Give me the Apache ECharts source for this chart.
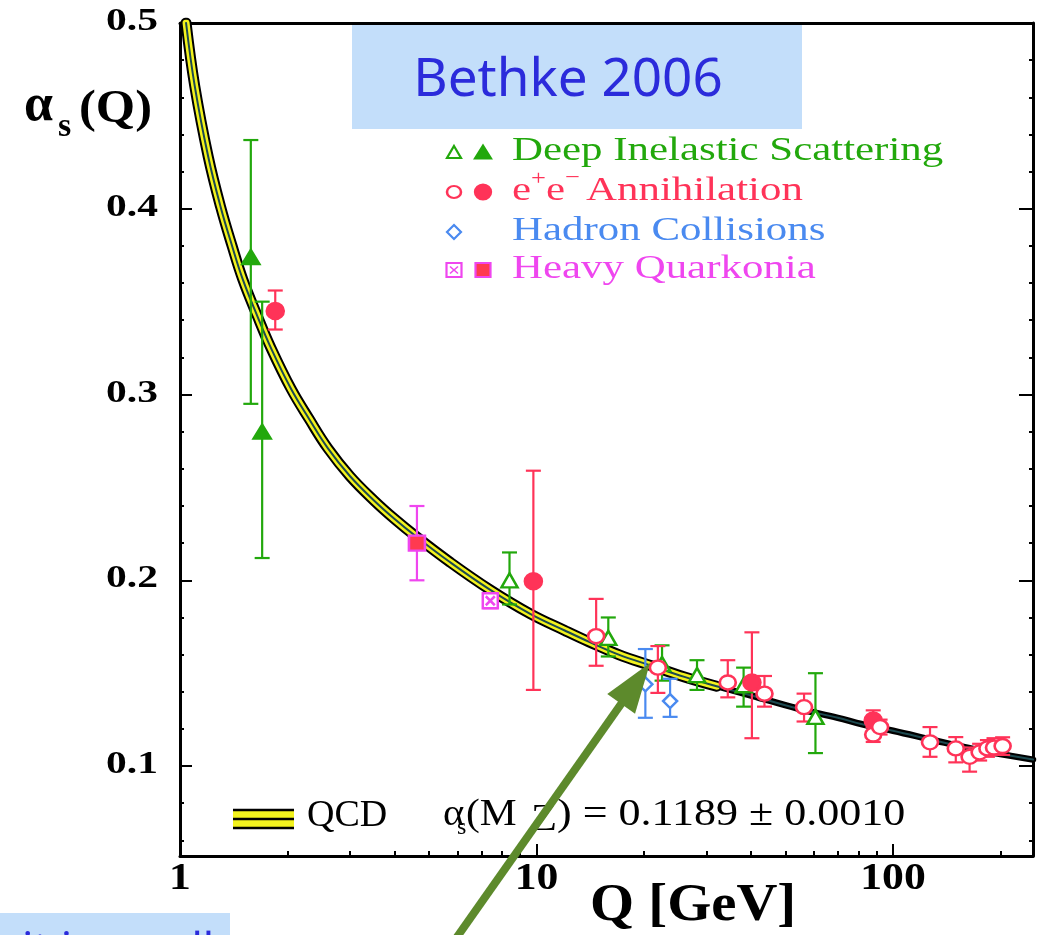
<!DOCTYPE html>
<html>
<head>
<meta charset="utf-8">
<script src="https://cdn.jsdelivr.net/npm/echarts@6/dist/echarts.min.js"></script>
<style>
  html, body { margin: 0; padding: 0; background: #ffffff; }
  #chart { width: 1039px; height: 935px; }
</style>
</head>
<body>
<div id="chart"></div>
<script>
// QCD running coupling, central curve (Q in GeV, alpha_s)
const curveQ = [1.04, 1.1, 1.2, 1.3, 1.4, 1.5, 1.65, 1.8, 2.05, 2.3, 2.6, 3.0, 3.5, 4.0, 4.6, 5.7, 7.4, 9.6, 12, 14, 17, 21, 26, 32, 40, 54, 70, 82, 100, 133, 170, 200, 247];
const curveAlpha = [0.500, 0.466, 0.428, 0.401, 0.380, 0.362, 0.342, 0.325, 0.303, 0.287, 0.271, 0.256, 0.243, 0.233, 0.2235, 0.210, 0.195, 0.182, 0.173, 0.167, 0.160, 0.154, 0.148, 0.143, 0.138, 0.131, 0.126, 0.1225, 0.119, 0.1135, 0.109, 0.1065, 0.1035];
// the error band is wide at low Q and narrows above this scale
const bandNarrowsAt = 32;

// Deep inelastic scattering
const disNnloQ = [8.4, 15.9, 22.5, 28.2, 38.1, 60.6];
const disNnloAlpha = [0.200, 0.169, 0.155, 0.149, 0.1435, 0.1265];
const disNnloLow = [0.187, 0.159, 0.146, 0.141, 0.132, 0.107];
const disNnloHigh = [0.215, 0.180, 0.165, 0.157, 0.153, 0.150];
const disNloQ = [1.58, 1.70];
const disNloAlpha = [0.374, 0.280];
const disNloLow = [0.295, 0.212];
const disNloHigh = [0.437, 0.350];

// e+e- annihilation
const eeNnloQ = [14.7, 21.9, 34.4, 43.6, 56.3, 88, 92, 127, 150, 164, 175, 184, 192, 203];
const eeNnloAlpha = [0.170, 0.153, 0.145, 0.139, 0.1317, 0.117, 0.121, 0.1128, 0.1095, 0.105, 0.1074, 0.1095, 0.110, 0.1108];
const eeNnloLow = [0.154, 0.1394, 0.137, 0.132, 0.124, 0.113, 0.117, 0.105, 0.102, 0.097, 0.103, 0.105, 0.106, 0.106];
const eeNnloHigh = [0.190, 0.1646, 0.157, 0.1485, 0.139, 0.121, 0.125, 0.121, 0.1156, 0.110, 0.112, 0.114, 0.115, 0.1155];
const eeNloQ = [1.85, 9.8, 40.2, 88];
const eeNloAlpha = [0.345, 0.1995, 0.145, 0.1245];
const eeNloLow = [0.335, 0.141, 0.115, 0.121];
const eeNloHigh = [0.356, 0.259, 0.172, 0.130];

// Hadron collisions
const hadronQ = [20.2, 23.7];
const hadronAlpha = [0.144, 0.135];
const hadronLow = [0.126, 0.1265];
const hadronHigh = [0.163, 0.147];

// Heavy quarkonia
const quarkNloQ = [4.62];
const quarkNloAlpha = [0.220];
const quarkNloLow = [0.200];
const quarkNloHigh = [0.240];
const quarkNnloQ = [7.42];
const quarkNnloAlpha = [0.189];
const quarkNnloLow = [0.185];
const quarkNnloHigh = [0.193];

// Axes
const xMajorTicks = [1, 10, 100];
const xMinorTicks = [2, 3, 4, 5, 6, 7, 8, 9, 20, 30, 40, 50, 60, 70, 80, 90, 200];
const xTickLabels = ['1', '10', '100'];
const yMajorTicks = [0.1, 0.2, 0.3, 0.4, 0.5];
const yMinorTicks = [0.06, 0.08, 0.12, 0.14, 0.16, 0.18, 0.22, 0.24, 0.26, 0.28, 0.32, 0.34, 0.36, 0.38, 0.42, 0.44, 0.46, 0.48];
const yTickLabels = ['0.1', '0.2', '0.3', '0.4', '0.5'];

const legendLabels = ['Deep Inelastic Scattering', 'Annihilation', 'Hadron Collisions', 'Heavy Quarkonia'];

const GREEN = '#22a80c';
const RED = '#ff3358';
const BLUE = '#4a8af0';
const MAGENTA = '#ef46ef';
const YELLOW = '#f2f21e';
const SERIF = '"Liberation Serif", "Times New Roman", serif';
const ROUND = '"Noto Sans", "DejaVu Sans", sans-serif';

const X_MIN = 1, X_MAX = 247, Y_MIN = 0.0516, Y_MAX = 0.5;

function logAxis(pos, show, ticks, len) {
  return {
    type: 'log', logBase: 10, min: X_MIN, max: X_MAX, position: pos, gridIndex: 0,
    axisLine: { show: show, onZero: false, lineStyle: { color: '#000', width: 3 } },
    axisTick: ticks ? { show: true, inside: true, length: len, customValues: ticks, lineStyle: { color: '#000', width: 2 } } : { show: false },
    axisLabel: { show: false }, splitLine: { show: false }, minorTick: { show: false }
  };
}
function valAxis(pos, show, ticks, len) {
  return {
    type: 'value', min: Y_MIN, max: Y_MAX, position: pos, gridIndex: 0,
    axisLine: { show: show, onZero: false, lineStyle: { color: '#000', width: 3 } },
    axisTick: { show: true, inside: true, length: len, customValues: ticks, lineStyle: { color: '#000', width: 2 } },
    axisLabel: { show: false }, splitLine: { show: false }
  };
}

function errorBars(name, qs, lows, highs, color) {
  return {
    type: 'custom', name: name, xAxisIndex: 0, yAxisIndex: 0, z: 3, silent: true,
    data: qs.map((q, i) => [q, lows[i], highs[i]]),
    encode: { x: 0, y: [1, 2] },
    renderItem: function (params, api) {
      const top = api.coord([api.value(0), api.value(2)]);
      const bot = api.coord([api.value(0), api.value(1)]);
      const hw = 7.5;
      const st = { stroke: color, lineWidth: 2.2 };
      return {
        type: 'group', children: [
          { type: 'line', shape: { x1: top[0], y1: top[1], x2: bot[0], y2: bot[1] }, style: st },
          { type: 'line', shape: { x1: top[0] - hw, y1: top[1], x2: top[0] + hw, y2: top[1] }, style: st },
          { type: 'line', shape: { x1: bot[0] - hw, y1: bot[1], x2: bot[0] + hw, y2: bot[1] }, style: st }
        ]
      };
    }
  };
}
function points(name, qs, alphas, symbol, size, fill, stroke) {
  return {
    type: 'scatter', name: name, xAxisIndex: 0, yAxisIndex: 0, z: 4, silent: true,
    symbol: symbol, symbolSize: size,
    itemStyle: { color: fill, borderColor: stroke, borderWidth: 2.5, opacity: 1 },
    data: qs.map((q, i) => [q, alphas[i]])
  };
}
function curveLine(name, qs, alphas, color, width) {
  return {
    type: 'line', name: name, xAxisIndex: 0, yAxisIndex: 0, z: 1, silent: true,
    smooth: 0.4, showSymbol: false, symbol: 'none',
    lineStyle: { color: color, width: width, cap: 'round', join: 'round' },
    data: qs.map((q, i) => [q, alphas[i]])
  };
}

// split the curve into the wide low-Q part and the narrow high-Q part
const cut = curveQ.findIndex(q => q >= bandNarrowsAt);
const lowQ = curveQ.slice(0, cut + 1), lowA = curveAlpha.slice(0, cut + 1);
const highQ = curveQ.slice(cut - 1), highA = curveAlpha.slice(cut - 1);

const BOXED_X = 'path://M0 0H20V20H0Z M4 4L16 16 M16 4L4 16';

const chart = echarts.init(document.getElementById('chart'), null, { renderer: 'canvas' });
chart.setOption({
  animation: false,
  backgroundColor: '#ffffff',
  grid: { left: 180, right: 6, top: 23, bottom: 79, containLabel: false },
  xAxis: [
    logAxis('bottom', true, xMajorTicks, 12),
    logAxis('bottom', false, xMinorTicks, 5),
    logAxis('top', true, null, 0)
  ],
  yAxis: [
    valAxis('left', true, yMajorTicks, 12),
    valAxis('left', false, yMinorTicks, 4),
    valAxis('right', true, yMajorTicks, 14),
    valAxis('right', false, yMinorTicks, 4)
  ],
  series: [
    // series order sets drawing order: outlines, yellow band, central line
    curveLine('QCD outline', lowQ, lowA, '#000000', 11),
    curveLine('QCD outline', highQ, highA, '#000000', 6.5),
    curveLine('QCD band', lowQ, lowA, YELLOW, 7),
    curveLine('QCD', curveQ, curveAlpha, '#1d4a50', 2),

    errorBars('DIS NLO err', disNloQ, disNloLow, disNloHigh, GREEN),
    errorBars('DIS NNLO err', disNnloQ, disNnloLow, disNnloHigh, GREEN),
    errorBars('ee NLO err', eeNloQ, eeNloLow, eeNloHigh, RED),
    errorBars('ee NNLO err', eeNnloQ, eeNnloLow, eeNnloHigh, RED),
    errorBars('Hadron err', hadronQ, hadronLow, hadronHigh, BLUE),
    errorBars('Quarkonia NLO err', quarkNloQ, quarkNloLow, quarkNloHigh, MAGENTA),
    errorBars('Quarkonia NNLO err', quarkNnloQ, quarkNnloLow, quarkNnloHigh, MAGENTA),

    points('Deep Inelastic Scattering (NLO)', disNloQ, disNloAlpha, 'triangle', [17, 14], GREEN, GREEN),
    points('Deep Inelastic Scattering', disNnloQ, disNnloAlpha, 'triangle', [16, 14], '#ffffff', GREEN),
    points('e+e- Annihilation (NLO)', eeNloQ, eeNloAlpha, 'circle', [17, 16], RED, RED),
    points('e+e- Annihilation', eeNnloQ, eeNnloAlpha, 'circle', [16, 14], '#ffffff', RED),
    points('Hadron Collisions', hadronQ, hadronAlpha, 'diamond', [14, 14], '#ffffff', BLUE),
    points('Heavy Quarkonia (NLO)', quarkNloQ, quarkNloAlpha, 'rect', [16, 15], '#ff3a50', MAGENTA),
    points('Heavy Quarkonia', quarkNnloQ, quarkNnloAlpha, BOXED_X, [15, 15], '#ffffff', MAGENTA)
  ]
});

const px = (q, a) => chart.convertToPixel({ xAxisIndex: 0, yAxisIndex: 0 }, [q, a]);

function text(x, y, str, font, fill, align, sx, z) {
  const a = align || 'left';
  return {
    type: 'text', x: x, y: y, scaleX: sx || 1, scaleY: 1, z: z || 50, silent: true,
    style: { text: str, font: font, fill: fill, align: a, verticalAlign: 'middle', textAlign: a, textVerticalAlign: 'middle' }
  };
}

const g = [];

// tick labels, placed through the axis scales
const axisLeft = px(X_MIN, Y_MIN)[0];
const axisBottom = px(X_MIN, Y_MIN)[1];
yMajorTicks.forEach((v, i) => {
  const p = px(X_MIN, v);
  g.push(text(axisLeft - 22, p[1] - 1, yTickLabels[i], 'bold 31px ' + SERIF, '#000', 'right', 1.34));
});
xMajorTicks.forEach((v, i) => {
  const p = px(v, Y_MIN);
  g.push(text(p[0], axisBottom + 23, xTickLabels[i], 'bold 38px ' + SERIF, '#000', 'center', 1.15));
});

// axis titles
g.push(text(24, 107, 'α', 'bold 52px ' + SERIF, '#000', 'left', 1));
g.push(text(58, 127, 's', 'bold 34px ' + SERIF, '#000', 'left', 1));
g.push(text(79, 110, '(Q)', 'bold 46px ' + SERIF, '#000', 'left', 1.1));
g.push(text(590, 907, 'Q [GeV]', 'bold 52px ' + SERIF, '#000', 'left', 1.09));

// legend
const LF = 'normal 33px ' + SERIF;
const rowsY = [151, 191, 231, 269];
const mx1 = 454, mx2 = 483;
function tri(cx, cy, w, h, fill, stroke) {
  return { type: 'polygon', z: 50, silent: true, shape: { points: [[cx, cy - h / 2], [cx + w / 2, cy + h / 2], [cx - w / 2, cy + h / 2]] }, style: { fill: fill, stroke: stroke, lineWidth: 2.2 } };
}
function ell(cx, cy, rx, ry, fill, stroke) {
  return { type: 'circle', z: 50, silent: true, x: cx, y: cy, scaleX: rx / ry, shape: { cx: 0, cy: 0, r: ry }, style: { fill: fill, stroke: stroke, lineWidth: 2.2 } };
}
g.push(tri(mx1, rowsY[0] + 1, 14, 12, '#fff', GREEN));
g.push(tri(mx2, rowsY[0] + 1, 16, 13, GREEN, GREEN));
g.push(ell(mx1, rowsY[1] + 1, 7, 6, '#fff', RED));
g.push(ell(mx2, rowsY[1] + 1, 8, 7.5, RED, RED));
g.push({ type: 'polygon', z: 50, silent: true, shape: { points: [[mx1, rowsY[2] - 6], [mx1 + 7, rowsY[2] + 1], [mx1, rowsY[2] + 8], [mx1 - 7, rowsY[2] + 1]] }, style: { fill: '#fff', stroke: BLUE, lineWidth: 2.2 } });
g.push({ type: 'rect', z: 50, silent: true, shape: { x: mx1 - 7.5, y: rowsY[3] - 6, width: 15, height: 14 }, style: { fill: '#fff', stroke: MAGENTA, lineWidth: 2.2 } });
g.push({ type: 'polyline', z: 51, silent: true, shape: { points: [[mx1 - 4, rowsY[3] - 2.5], [mx1 + 4, rowsY[3] + 4.5]] }, style: { stroke: MAGENTA, lineWidth: 1.6, fill: null } });
g.push({ type: 'polyline', z: 51, silent: true, shape: { points: [[mx1 + 4, rowsY[3] - 2.5], [mx1 - 4, rowsY[3] + 4.5]] }, style: { stroke: MAGENTA, lineWidth: 1.6, fill: null } });
g.push({ type: 'rect', z: 50, silent: true, shape: { x: mx2 - 7.5, y: rowsY[3] - 6, width: 15, height: 14 }, style: { fill: '#ff3a50', stroke: MAGENTA, lineWidth: 2.2 } });

g.push(text(512, rowsY[0], legendLabels[0], LF, GREEN, 'left', 1.3));
// e+e- with raised signs
g.push(text(512, rowsY[1], 'e', LF, RED, 'left', 1.3));
g.push(text(531, rowsY[1] - 12, '+', 'normal 22px ' + SERIF, RED, 'left', 1.2));
g.push(text(546, rowsY[1], 'e', LF, RED, 'left', 1.3));
g.push(text(565, rowsY[1] - 13, '−', 'normal 22px ' + SERIF, RED, 'left', 1.2));
g.push(text(586, rowsY[1], legendLabels[1], LF, RED, 'left', 1.3));
g.push(text(512, rowsY[2], legendLabels[2], LF, BLUE, 'left', 1.3));
g.push(text(512, rowsY[3], legendLabels[3], LF, MAGENTA, 'left', 1.3));

// QCD band key and coupling value
g.push({ type: 'rect', z: 50, silent: true, shape: { x: 233, y: 810, width: 61, height: 18 }, style: { fill: YELLOW } });
[810, 819, 828].forEach(yy => g.push({ type: 'line', z: 51, silent: true, shape: { x1: 233, y1: yy, x2: 294, y2: yy }, style: { stroke: '#000', lineWidth: 2.5 } }));
const BF = 'normal 37px ' + SERIF;
g.push(text(307, 816, 'QCD', 'normal 38px ' + SERIF, '#000', 'left', 1));
g.push(text(443, 815, 'α', BF, '#000', 'left', 1.1));
g.push(text(457, 828, 's', 'normal 24px ' + SERIF, '#000', 'left', 1));
g.push(text(466, 815, '(M', BF, '#000', 'left', 1.12));
g.push(text(531, 820, 'Z', BF, '#000', 'left', 1.15));
g.push(text(557, 815, ') = 0.1189 ± 0.0010', BF, '#000', 'left', 1.19));

// title box
g.push({ type: 'rect', z: 60, silent: true, shape: { x: 352, y: 25, width: 450, height: 104 }, style: { fill: '#c3defa' } });
g.push(text(568, 81, 'Bethke 2006', 'normal 53px ' + ROUND, '#2b2bdb', 'center', 1, 61));

// lower note box
g.push({ type: 'rect', z: 60, silent: true, shape: { x: 0, y: 913, width: 230, height: 22 }, style: { fill: '#c3defa' } });
g.push(text(22, 951, 'it is small', 'normal 44px ' + ROUND, '#2b2bdb', 'left', 1, 61));

// arrow
const tip = [650, 663];
const dir = [-0.577, 0.817];
const headLen = 50, headHalf = 17;
const base = [tip[0] + dir[0] * headLen, tip[1] + dir[1] * headLen];
const perp = [dir[1], -dir[0]];
g.push({ type: 'line', z: 70, silent: true, shape: { x1: 450, y1: 947, x2: base[0] - dir[0] * 2, y2: base[1] - dir[1] * 2 }, style: { stroke: '#5d8a2c', lineWidth: 8 } });
g.push({ type: 'polygon', z: 70, silent: true, shape: { points: [tip, [base[0] + perp[0] * headHalf, base[1] + perp[1] * headHalf], [base[0] - perp[0] * headHalf, base[1] - perp[1] * headHalf]] }, style: { fill: '#5d8a2c' } });

chart.setOption({ graphic: { elements: g } });
</script>
</body>
</html>
